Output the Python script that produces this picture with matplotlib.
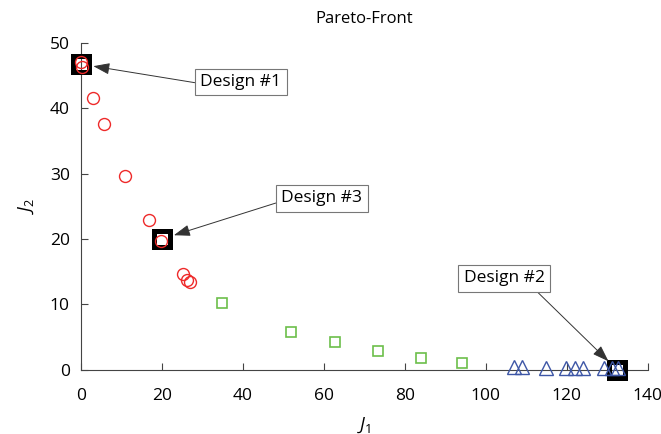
import matplotlib

matplotlib.use("Agg")
import matplotlib.pyplot as plt

plt.rcParams["font.family"] = ["Open Sans", "DejaVu Sans"]
plt.rcParams["mathtext.fontset"] = "custom"
plt.rcParams["mathtext.it"] = "Open Sans:italic"
plt.rcParams["mathtext.rm"] = "Open Sans"

# red circles (group 1)
j1_red = [0.0, 0.3, 3.0, 5.7, 10.9, 16.8, 19.8, 25.1, 26.1, 26.9]
j2_red = [47.0, 46.2, 41.6, 37.5, 29.6, 22.9, 19.7, 14.6, 13.8, 13.5]

# green squares (group 2)
j1_green = [34.8, 51.9, 62.7, 73.3, 84.0, 94.0]
j2_green = [10.2, 5.8, 4.3, 2.9, 1.8, 1.1]

# blue triangles (group 3)
j1_blue = [107.0, 109.0, 114.8, 119.9, 122.0, 123.9, 129.1, 131.2, 132.7]
j2_blue = [0.4, 0.4, 0.3, 0.3, 0.3, 0.3, 0.3, 0.3, 0.3]

# highlighted designs
design_names = ["Design #1", "Design #3", "Design #2"]
design_j1 = [0.0, 20.0, 132.5]
design_j2 = [46.7, 20.0, 0.0]
label_j1 = [39.5, 59.5, 104.5]
label_j2 = [44.0, 26.2, 14.0]
label_relpos = [(0.0, 0.39), (0.0, 0.32), (0.84, 0.0)]

x_ticks = [0, 20, 40, 60, 80, 100, 120, 140]
y_ticks = [0, 10, 20, 30, 40, 50]

fig = plt.figure(figsize=(6.61, 4.34), dpi=100)
ax = fig.add_axes([0.1225, 0.1475, 0.8575, 0.7545])

ax.plot(design_j1, design_j2, "s", ms=12.2, mfc="none", mec="black", mew=3.6,
        clip_on=False, zorder=3)
ax.plot(j1_red, j2_red, "o", ms=8.6, mfc="none", mec="#ee2a2a", mew=1.0,
        clip_on=False, zorder=4)
ax.plot(j1_green, j2_green, "s", ms=7.2, mfc="none", mec="#6cbf4a", mew=1.2,
        clip_on=False, zorder=4)
ax.plot(j1_blue, j2_blue, "^", ms=10, mfc="none", mec="#3d56a6", mew=1.0,
        clip_on=False, zorder=4)

for name, dx, dy, lx, ly, rp in zip(design_names, design_j1, design_j2,
                                     label_j1, label_j2, label_relpos):
    ax.annotate(name, xy=(dx, dy), xytext=(lx, ly), fontsize=12.5,
                ha="center", va="center", zorder=6,
                bbox=dict(boxstyle="square,pad=0.3", fc="white", ec="#777777", lw=0.8),
                arrowprops=dict(arrowstyle="-|>,head_length=0.8,head_width=0.28",
                                color="#333333", lw=0.7, relpos=rp,
                                shrinkA=0, shrinkB=9))

ax.set_xlim(0, 140)
ax.set_ylim(0, 50)
ax.set_xticks(x_ticks)
ax.set_yticks(y_ticks)
ax.tick_params(direction="in", length=5, width=0.8, color="#444444", labelsize=12.5)
ax.tick_params(axis="x", pad=13)
ax.tick_params(axis="y", pad=8)
for side in ("top", "right"):
    ax.spines[side].set_visible(False)
for side in ("left", "bottom"):
    ax.spines[side].set_color("#444444")
    ax.spines[side].set_linewidth(0.8)

ax.set_xlabel("$J_1$", fontsize=13)
ax.set_ylabel("$J_2$", fontsize=13)
ax.xaxis.set_label_coords(0.5, -0.138)
ax.yaxis.set_label_coords(-0.08, 0.5)
ax.set_title("Pareto-Front", fontsize=12, pad=14)

fig.savefig("out.png", dpi=100)
